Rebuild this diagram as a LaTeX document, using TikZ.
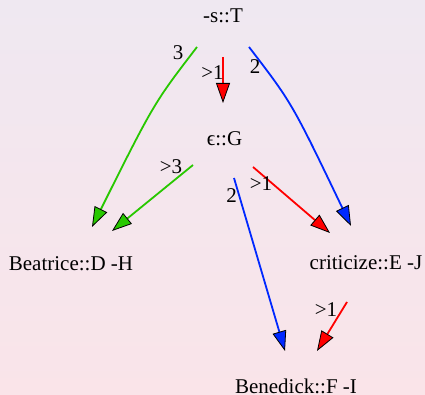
\documentclass[tikz,border=0pt]{standalone}
\usepackage{fontspec}
\setmainfont{Liberation Serif}
\usetikzlibrary{arrows.meta, calc, positioning}

\definecolor{bgtop}{RGB}{239,232,241}
\definecolor{bgbottom}{RGB}{250,228,233}
\definecolor{lnkgreen}{RGB}{40,200,0}
\definecolor{lnkblue}{RGB}{0,40,255}
\definecolor{lnkred}{RGB}{255,0,0}

\tikzset{
    word/.style={inner sep=0pt, font=\fontsize{21}{25}\selectfont},
    weight/.style={inner sep=0pt, font=\fontsize{21}{25}\selectfont},
    arrow/.style={line width=1.8pt, draw=#1,
        -{Triangle[length=20pt, width=14pt, color=black, fill=#1, line width=0.8pt]}}
}

\begin{document}
\begin{tikzpicture}[x=1pt, y=1pt]

    % ============================================================
    % Background
    % ============================================================
    \shade[top color=bgtop, bottom color=bgbottom] (0,0) rectangle (425,395);
    \useasboundingbox (0,0) rectangle (425,395);

    % ============================================================
    % Words
    % ============================================================
    \node[word] (T) at (223,379) {-s::T};
    \node[word] (G) at (224.5,256) {ϵ::G};
    \node[word] (bea) at (71,131) {Beatrice::D -H};
    \node[word] (cri) at (366,132) {criticize::E -J};
    \node[word] (ben) at (296,9) {Benedick::F -I};

    % ============================================================
    % Links
    % ============================================================
    % from -s::T
    \draw[arrow=lnkgreen] ($(T)+(-26,-31)$) .. controls +(-43,-56) and +(62,124) .. ($(bea)+(21,37)$);
    \draw[arrow=lnkred] ($(T)+(0,-41)$) -- ($(G)+(-1.5,36)$);
    \draw[arrow=lnkblue] ($(T)+(26,-31)$) .. controls +(43,-56) and +(-59,123) .. ($(cri)+(-15,37)$);

    % from eps::G
    \draw[arrow=lnkgreen] ($(G)+(-31.5,-26)$) -- ($(bea)+(41,33)$);
    \draw[arrow=lnkred] ($(G)+(28.5,-28)$) -- ($(cri)+(-36,30)$);
    \draw[arrow=lnkblue] ($(G)+(9.5,-39)$) -- ($(ben)+(-11,35)$);

    % from criticize::E
    \draw[arrow=lnkred] ($(cri)+(-19,-39)$) -- ($(ben)+(21,35)$);

    % Weights
    \node[weight] (w1) at (178,342) {3};
    \node[weight] (w2) at (212.5,322) {>1};
    \node[weight] (w3) at (255,328) {2};
    \node[weight] (w4) at (171,228) {>3};
    \node[weight] (w5) at (261,211) {>1};
    \node[weight] (w6) at (231.5,199) {2};
    \node[weight] (w7) at (326,85) {>1};

\end{tikzpicture}
\end{document}
